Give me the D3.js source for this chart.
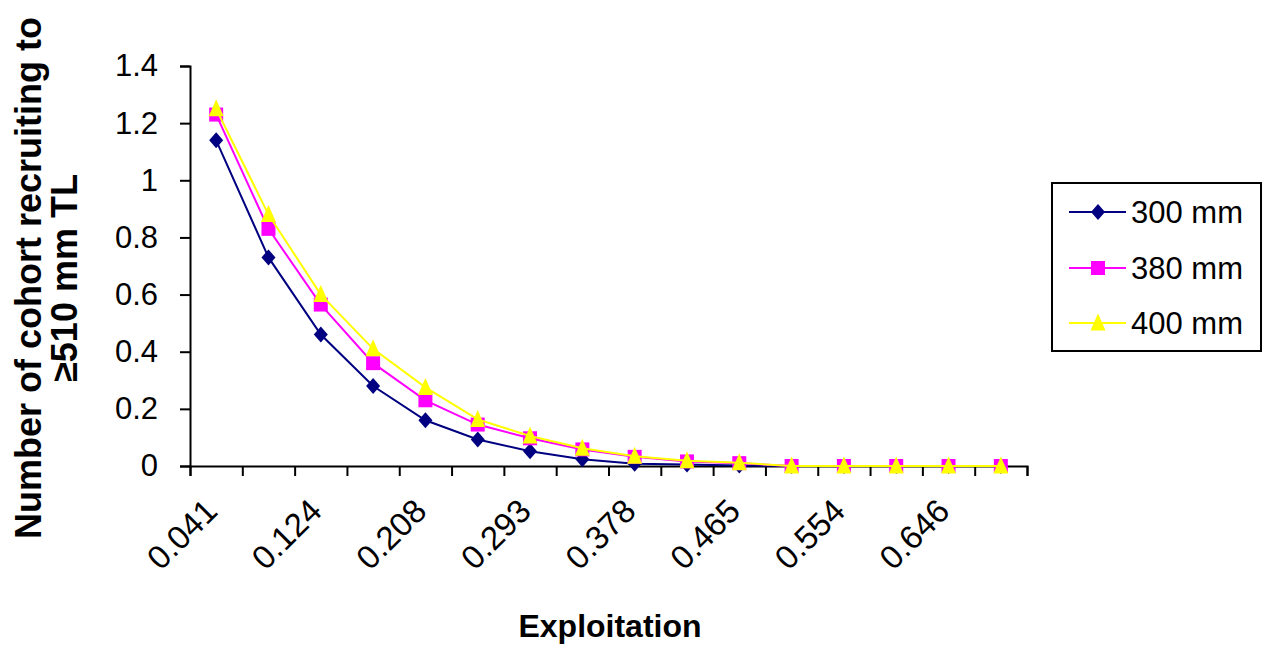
<!DOCTYPE html>
<html>
<head>
<meta charset="utf-8">
<script src="https://cdn.jsdelivr.net/npm/d3@7/dist/d3.min.js"></script>
<style>
  html, body { margin: 0; padding: 0; background: #fff; }
  svg { display: block; font-family: "Liberation Sans", Arial, sans-serif; }
</style>
</head>
<body>
<svg id="chart" width="1266" height="649"></svg>
<script>
// Exploitation rates (categories) and labelled subset
const exploitation = ["0.041","0.082","0.124","0.166","0.208","0.250","0.293","0.335",
                      "0.378","0.421","0.465","0.509","0.554","0.600","0.646","0.693"];
const xTickLabels = ["0.041","0.124","0.208","0.293","0.378","0.465","0.554","0.646"];
const yTicks = [0, 0.2, 0.4, 0.6, 0.8, 1, 1.2, 1.4];

// Number of cohort recruiting to >=510 mm TL, by minimum length limit
const seriesNames = ["300 mm", "380 mm", "400 mm"];
const mm300 = [1.14, 0.73, 0.46, 0.28, 0.16, 0.093, 0.052, 0.024, 0.008, 0.005, 0.002, 0, 0, 0, 0, 0];
const mm380 = [1.23, 0.83, 0.565, 0.36, 0.23, 0.145, 0.097, 0.058, 0.032, 0.016, 0.01, 0, 0, 0, 0, 0];
const mm400 = [1.25, 0.88, 0.60, 0.41, 0.275, 0.163, 0.105, 0.062, 0.034, 0.018, 0.011, 0, 0, 0, 0, 0];

const svg = d3.select("#chart");
const plotLeft = 190, plotRight = 1027, plotTop = 66, plotBottom = 466;
const FONT = "'Liberation Sans', Arial, sans-serif";

const x = d3.scaleBand().domain(exploitation).range([plotLeft, plotRight]).paddingInner(0).paddingOuter(0);
const xEdges = d3.scaleLinear().domain([0, exploitation.length]).range([plotLeft, plotRight]);
const y = d3.scaleLinear().domain([0, 1.4]).range([plotBottom, plotTop]);

// Marker shapes (sizes in px: width/height of the glyph)
const diamondMarker = {
  draw(ctx, size) {
    const w = size / 2, h = size / 2 + 1;
    ctx.moveTo(0, -h); ctx.lineTo(w, 0); ctx.lineTo(0, h); ctx.lineTo(-w, 0); ctx.closePath();
  }
};
const squareMarker = {
  draw(ctx, size) {
    const s = size / 2;
    ctx.rect(-s, -s, size, size);
  }
};
const triangleMarker = {
  draw(ctx, size) {
    const w = size / 2, h = size / 2 + 1;
    ctx.moveTo(0, -h - 1); ctx.lineTo(w, h - 1); ctx.lineTo(-w, h - 1); ctx.closePath();
  }
};

const series = [
  { name: seriesNames[0], values: mm300, color: "#000080", marker: diamondMarker, size: 14 },
  { name: seriesNames[1], values: mm380, color: "#FF00FF", marker: squareMarker, size: 14 },
  { name: seriesNames[2], values: mm400, color: "#FFFF00", marker: triangleMarker, size: 15 }
];

// Y axis
const yAxis = svg.append("g")
  .attr("transform", `translate(${plotLeft},0)`)
  .call(d3.axisLeft(y).tickValues(yTicks).tickSize(10).tickPadding(22)
        .tickFormat(d => String(+d.toFixed(1))));
yAxis.select(".domain").attr("stroke", "#000").attr("stroke-width", 2);
yAxis.selectAll(".tick line").attr("stroke", "#000").attr("stroke-width", 2);
yAxis.selectAll(".tick text").attr("font-size", 31).attr("fill", "#000")
  .attr("font-family", FONT);

// X axis: tick marks at category boundaries
const xTicksAxis = svg.append("g")
  .attr("transform", `translate(0,${plotBottom})`)
  .call(d3.axisBottom(xEdges).tickValues(d3.range(exploitation.length + 1))
        .tickSize(10).tickFormat(""));
xTicksAxis.select(".domain").attr("stroke", "#000").attr("stroke-width", 2);
xTicksAxis.selectAll(".tick line").attr("stroke", "#000").attr("stroke-width", 2);

// X axis: rotated labels on every other category
const xLabelAxis = svg.append("g")
  .attr("transform", `translate(0,${plotBottom})`)
  .call(d3.axisBottom(x).tickValues(xTickLabels).tickSize(0).tickPadding(0));
xLabelAxis.select(".domain").remove();
xLabelAxis.selectAll(".tick text")
  .attr("font-size", 33).attr("fill", "#000")
  .attr("font-family", FONT)
  .attr("text-anchor", "end")
  .attr("dy", null)
  .attr("y", 0)
  .attr("transform", "translate(3,47) rotate(-45)");

// Series: line then markers, one series at a time
const line = d3.line()
  .x((d, i) => x(exploitation[i]) + x.bandwidth() / 2)
  .y(d => y(d));

series.forEach(s => {
  const g = svg.append("g");
  g.append("path")
    .datum(s.values)
    .attr("d", line)
    .attr("fill", "none")
    .attr("stroke", s.color)
    .attr("stroke-width", 2);
  g.selectAll("path.marker")
    .data(s.values)
    .join("path")
    .attr("class", "marker")
    .attr("d", d3.symbol().type(s.marker).size(s.size))
    .attr("transform", (d, i) => `translate(${x(exploitation[i]) + x.bandwidth() / 2},${y(d)})`)
    .attr("fill", s.color);
});

// Axis titles
svg.append("text")
  .attr("x", 610).attr("y", 637)
  .attr("text-anchor", "middle")
  .attr("font-size", 32).attr("font-weight", "bold")
  .text("Exploitation");

const yTitle = svg.append("text")
  .attr("transform", "translate(0,278) rotate(-90)")
  .attr("text-anchor", "middle")
  .attr("font-size", 36).attr("font-weight", "bold");
yTitle.append("tspan").attr("x", 0).attr("y", 41).text("Number of cohort recruiting to");
yTitle.append("tspan").attr("x", 0).attr("y", 77).text("\u2265510 mm TL");

// Legend
const legend = svg.append("g");
legend.append("rect")
  .attr("x", 1052).attr("y", 183).attr("width", 209).attr("height", 168)
  .attr("fill", "#fff").attr("stroke", "#000").attr("stroke-width", 2);
const rowY = [212, 268, 323];
series.forEach((s, i) => {
  const g = legend.append("g").attr("transform", `translate(0,${rowY[i]})`);
  g.append("line").attr("x1", 1069).attr("x2", 1126).attr("y1", 0).attr("y2", 0)
    .attr("stroke", s.color).attr("stroke-width", 2);
  g.append("path").attr("d", d3.symbol().type(s.marker).size(s.size))
    .attr("transform", "translate(1098,0)").attr("fill", s.color);
  g.append("text").attr("x", 1131).attr("y", 0).attr("dy", "0.35em")
    .attr("font-size", 31).attr("fill", "#000").text(s.name);
});
</script>
</body>
</html>
